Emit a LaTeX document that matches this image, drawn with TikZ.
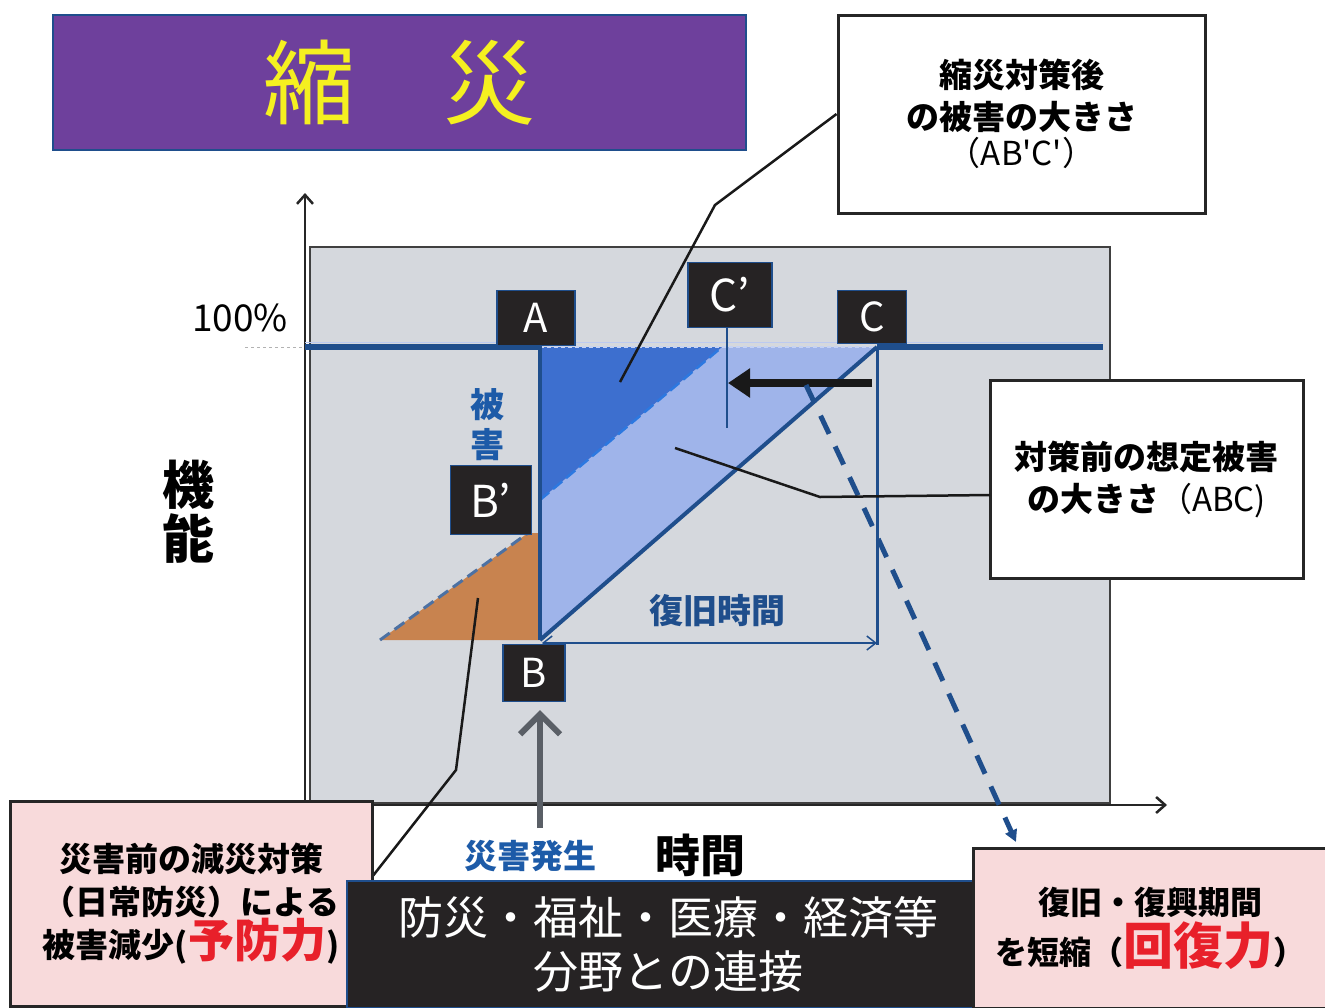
\documentclass[tikz,border=0pt]{standalone}
\usepackage{fontspec}
\newfontfamily\jp{Noto Sans CJK JP}
\usetikzlibrary{arrows.meta}
\definecolor{panelgray}{HTML}{D5D8DD}
\definecolor{lineblue}{HTML}{1F4E8C}
\definecolor{darktri}{HTML}{3D6FCF}
\definecolor{lighttri}{HTML}{9FB4EA}
\definecolor{orangefill}{HTML}{C8834F}
\definecolor{labdark}{HTML}{262324}
\definecolor{pinkfill}{HTML}{F8DADB}
\definecolor{titlepurple}{HTML}{6E409C}
\definecolor{titleyellow}{HTML}{F5F020}
\definecolor{redtext}{HTML}{E8202A}
\definecolor{textblue}{HTML}{1D5BA8}
\definecolor{arrowgray}{HTML}{5A5F66}
\definecolor{dashblue}{HTML}{2C78E0}
\tikzset{
  letterbox/.style={fill=labdark, draw=lineblue, line width=1.5pt, text=white,
    font=\jp\fontsize{40}{40}\selectfont, inner sep=0pt, anchor=center},
  whitebox/.style={fill=white, draw=black!85, line width=3pt, align=center,
    font=\jp\bfseries\fontsize{33}{42}\selectfont, inner sep=0pt},
  pinkbox/.style={fill=pinkfill, draw=black!85, line width=3pt, align=center,
    font=\jp\bfseries\fontsize{33}{43}\selectfont, inner sep=0pt},
  leader/.style={draw=black!90, line width=2.5pt},
  axis/.style={draw=black!85, line width=2.5pt, -{Straight Barb[length=9pt,width=16pt,line width=2.5pt]}}
}
\begin{document}
\begin{tikzpicture}[x=1pt,y=-1pt]
\useasboundingbox (0,0) rectangle (1325,1007);
\fill[white] (0,0) rectangle (1325,1007);

% title
\node[fill=titlepurple, draw=lineblue, line width=1.5pt, minimum width=693pt, minimum height=135pt,
  inner sep=0pt, text=titleyellow, font=\jp\fontsize{92}{92}\selectfont] (title) at (399.5,82.5) {縮\hspace{88pt}災};

% panel
\node[fill=panelgray, draw=black!75, line width=1.5pt, minimum width=800pt, minimum height=556pt, inner sep=0pt] (panel) at (710,525) {};

% axes
\coordinate (origin) at (305,805);
\coordinate (ytop) at (305,193);
\coordinate (xend) at (1167,805);
\draw[axis] (origin) -- (ytop);
\draw[axis] (origin) -- (xend);

% 100% guide
\draw[gray!60, dashed, line width=0.8pt] (245,347) -- (305,347);
\draw[lighttri!70, line width=0.8pt] (305,342) -- (1103,342);
\node[font=\jp\fontsize{37}{37}\selectfont, anchor=center] (pct) at (240,318) {100\%};

% key points
\coordinate (A) at (540,347);
\coordinate (Bp) at (540,500);
\coordinate (Cp) at (722,347);
\coordinate (B) at (540,640);
\coordinate (C) at (877,347);

% light triangle ABC
\fill[lighttri] (A) -- (B) -- (C) -- cycle;
% dark triangle AB'C'
\fill[darktri] (A) -- (Bp) -- (Cp) -- cycle;
\draw[dashblue, dash pattern=on 12pt off 5pt, line width=2.5pt] (Bp) -- (Cp);
\draw[lighttri!60!white, dash pattern=on 4pt off 3pt, line width=1.5pt] (A) -- (C);

% orange triangle
\coordinate (O1) at (380,640);
\coordinate (O2) at (528,533);
\fill[orangefill] (O1) -- (B) -- (540,533) -- (O2) -- cycle;
\draw[lineblue!80!white, dash pattern=on 12pt off 6pt, line width=3pt] (O1) -- (O2);

% main blue lines
\draw[lineblue, line width=6pt] (305,347) -- (A);
\draw[lineblue, line width=6pt] (C) -- (1103,347);
\draw[lineblue, line width=4pt] (540,344) -- (B);
\draw[lineblue, line width=4pt] (B) -- (C);
\draw[lineblue, line width=3pt] (C) -- (877,645);

% recovery time arrow
\coordinate (rl) at (542,643);
\coordinate (rr) at (877,643);
\draw[lineblue, line width=1.8pt, {Straight Barb[length=9pt,width=14pt,line width=1.5pt]}-{Straight Barb[length=9pt,width=14pt,line width=1.5pt]}] (rl) -- (rr);
\node[text=lineblue, font=\jp\bfseries\fontsize{34}{34}\selectfont] (fkjk) at (717,611) {復旧時間};

% C' line and black arrow
\coordinate (cpl) at (727,428);
\coordinate (ab1) at (872,383);
\coordinate (ab2) at (728,383);
\draw[lineblue, line width=2pt] (727,327) -- (cpl);
\draw[black!90, line width=8pt, -{Triangle[length=22pt,width=28pt]}] (ab1) -- (ab2);

% dashed curve to recovery box
\coordinate (d1) at (806,385);
\coordinate (d2) at (1016,842);
\draw[lineblue, line width=5pt, dash pattern=on 20pt off 14pt, -{Triangle[length=12pt,width=12pt]}] (d1) .. controls (870,520) .. (d2);

% labels
\node[letterbox, minimum width=78pt, minimum height=55pt] (lA) at (536,318) {A};
\node[letterbox, minimum width=84pt, minimum height=65pt, font=\jp\fontsize{44}{44}\selectfont] (lCp) at (730,295) {C’};
\node[letterbox, minimum width=69pt, minimum height=53pt] (lC) at (872,317) {C};
\node[letterbox, minimum width=81pt, minimum height=69pt, font=\jp\fontsize{44}{44}\selectfont] (lBp) at (491,500) {B’};
\node[letterbox, minimum width=62pt, minimum height=57pt] (lB) at (534,673) {B};

\node[text=textblue, font=\jp\bfseries\fontsize{34}{40}\selectfont, align=center] (higai) at (487,425) {被\\害};

% disaster arrow
\coordinate (gs) at (540,828);
\coordinate (ge) at (540,710);
\draw[arrowgray, line width=6pt, -{Straight Barb[length=20pt,width=40pt,line width=6pt]}] (gs) -- (ge);

% axis labels
\node[font=\jp\bfseries\fontsize{52}{54}\selectfont, align=center] (kino) at (188,512) {機\\能};
\node[font=\jp\bfseries\fontsize{45}{45}\selectfont] (jikan) at (700,855) {時間};
\node[text=textblue, font=\jp\bfseries\fontsize{33}{33}\selectfont] (hassei) at (530,856) {災害発生};

% callout boxes
\node[whitebox, minimum width=367pt, minimum height=198pt] (tr) at (1021.5,114)
  {縮災対策後\\の被害の大きさ\\[-6pt]{\mdseries （AB'C'）}};
\node[whitebox, minimum width=313pt, minimum height=198pt] (rbox) at (1146.5,479)
  {対策前の想定被害\\の大きさ{\mdseries（ABC)}};

% leaders
\coordinate (l1a) at (620,382);
\coordinate (l1b) at (715,205);
\draw[leader] (l1a) -- (l1b) -- (tr.west);
\coordinate (l2a) at (675,448);
\coordinate (l2b) at (820,497);
\coordinate (l2c) at (990,495);
\draw[leader] (l2a) -- (l2b) -- (l2c);
\coordinate (l3a) at (478,598);
\coordinate (l3b) at (456,770);
\coordinate (l3c) at (372,877);
\draw[leader] (l3a) -- (l3b) -- (l3c);

% bottom boxes
\node[pinkbox, minimum width=362pt, minimum height=205pt] (bl) at (191,904)
  {災害前の減災対策\\（日常防災）による\\被害減少({\color{redtext}\fontsize{46}{46}\selectfont 予防力})};
\node[fill=labdark, draw=lineblue, line width=1.2pt, minimum width=643pt, minimum height=127pt, inner sep=0pt,
  text=white, align=center, font=\jp\fontsize{45}{54}\selectfont] (bc) at (668.5,944.5)
  {防災・福祉・医療・経済等\\分野との連接};
\node[pinkbox, minimum width=354pt, minimum height=160pt, font=\jp\bfseries\fontsize{32}{50}\selectfont] (br) at (1150,928)
  {復旧・復興期間\\を短縮（{\color{redtext}\fontsize{50}{50}\selectfont 回復力}）};
\end{tikzpicture}
\end{document}
